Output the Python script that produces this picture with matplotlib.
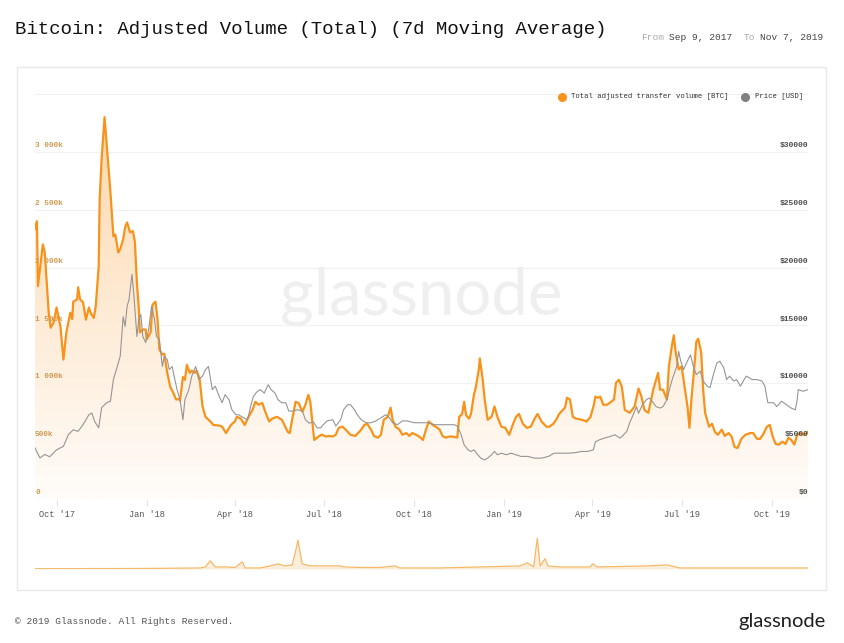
import numpy as np
import pandas as pd
import matplotlib
matplotlib.use('Agg')
import matplotlib.pyplot as plt
import matplotlib.dates as mdates
from matplotlib.colors import LinearSegmentedColormap
from matplotlib.patches import Rectangle

# ── data ──
START = pd.Timestamp('2017-09-09')
END = pd.Timestamp('2019-11-07')

vol_days = [0, 2, 3, 8, 10, 14, 16, 19, 22, 26, 29, 32, 36, 38, 39, 43, 44, 46, 49, 52,
            55, 57, 60, 62, 65, 66, 68, 71, 73, 75, 77, 80, 82, 85, 87, 90, 92, 94, 97, 100,
            102, 104, 106, 107, 110, 113, 114, 118, 120, 123, 125, 127, 130, 132, 135, 138,
            141, 144, 147, 148, 151, 153, 155, 158, 160, 163, 165, 168, 171, 174, 179, 182,
            188, 191, 195, 200, 204, 206, 210, 214, 218, 222, 225, 228, 232, 235, 239, 242,
            247, 252, 258, 260, 263, 266, 269, 273, 276, 279, 281, 285, 288, 292, 293, 297,
            300, 304, 307, 310, 314, 317, 322, 327, 333, 336, 339, 343, 346, 350, 353, 356,
            360, 363, 365, 368, 372, 375, 379, 382, 385, 389, 392, 396, 399, 402, 406, 409,
            413, 416, 419, 423, 426, 431, 433, 436, 438, 440, 443, 445, 448, 450, 453, 454,
            457, 459, 462, 466, 469, 472, 476, 480, 484, 488, 491, 494, 498, 502, 506, 510,
            513, 517, 522, 525, 529, 532, 535, 541, 543, 546, 549, 552, 558, 563, 567, 570,
            572, 575, 577, 580, 584, 588, 591, 593, 596, 599, 602, 607, 612, 616, 619, 622,
            626, 629, 631, 634, 636, 638, 641, 645, 647, 650, 652, 654, 657, 660, 663, 666,
            668, 670, 673, 675, 677, 680, 682, 684, 688, 691, 694, 697, 701, 704, 708, 711,
            714, 717, 721, 725, 730, 733, 737, 740, 743, 747, 750, 753, 756, 759, 763, 766,
            769, 772, 775, 778, 781, 784, 788, 789]
vol_k = [2335, 2400, 1840, 2200, 2130, 1610, 1480, 1525, 1655, 1490, 1205, 1440, 1610, 1555, 1705, 1725, 1830, 1725, 1700, 1550,
         1655, 1605, 1565, 1665, 2010, 2590, 2940, 3300, 3085, 2880, 2650, 2270, 2285, 2130, 2160, 2245, 2350, 2390, 2305, 2315,
         2220, 1870, 1640, 1440, 1465, 1465, 1380, 1440, 1680, 1705, 1560, 1290, 1250, 1255, 1090, 970,
         920, 860, 865, 850, 1055, 1030, 1160, 1090, 1110, 1090, 1110, 1040, 800, 710, 670, 640,
         635, 625, 570, 640, 670, 710, 695, 640, 710, 770, 840, 815, 830, 755, 670, 695,
         710, 685, 580, 570, 710, 840, 830, 755, 815, 900, 840, 510, 530, 555, 555, 540,
         545, 540, 555, 615, 625, 600, 555, 545, 600, 640, 650, 600, 545, 530, 555, 685,
         710, 790, 685, 625, 600, 555, 570, 545, 570, 555, 540, 510, 600, 670, 640, 625,
         600, 545, 530, 540, 540, 530, 710, 735, 840, 725, 695, 735, 900, 970, 1120, 1215,
         1030, 860, 685, 710, 800, 710, 625, 615, 555, 650, 710, 735, 650, 615, 625, 695,
         735, 670, 625, 625, 650, 685, 735, 790, 875, 860, 710, 695, 685, 670, 710, 800,
         885, 875, 885, 815, 815, 840, 860, 1005, 1030, 970, 770, 745, 800, 955, 885, 770,
         745, 860, 945, 1030, 1090, 945, 945, 860, 1145, 1320, 1415, 1265, 1120, 1145, 970, 800,
         615, 860, 1145, 1360, 1385, 1265, 945, 745, 625, 650, 580, 555, 600, 545, 570, 540,
         450, 440, 520, 555, 570, 570, 520, 520, 555, 625, 640, 540, 475, 470, 495, 475,
         530, 510, 470, 555, 570, 555, 570, 580]

price_days = [0, 5, 10, 15, 22, 29, 34, 39, 44, 49, 55, 58, 61, 65, 68, 73, 77, 80, 84, 87,
              90, 92, 94, 96, 99, 101, 104, 106, 108, 110, 113, 116, 119, 122, 124, 127, 130,
              132, 135, 137, 140, 142, 145, 148, 151, 153, 157, 160, 164, 167, 171, 174, 177,
              181, 184, 188, 191, 194, 198, 201, 205, 208, 211, 217, 220, 223, 227, 230, 234,
              238, 241, 245, 248, 252, 256, 259, 263, 268, 273, 276, 280, 284, 288, 292, 293,
              298, 304, 307, 312, 315, 319, 322, 326, 329, 333, 338, 343, 348, 353, 358, 361,
              365, 370, 375, 380, 387, 394, 401, 408, 414, 421, 428, 431, 435, 438, 442, 445,
              448, 452, 455, 459, 462, 466, 469, 472, 476, 481, 486, 491, 496, 503, 510, 517,
              524, 530, 537, 544, 551, 558, 564, 570, 572, 576, 581, 587, 592, 597, 599, 604,
              607, 610, 614, 616, 620, 624, 627, 631, 634, 638, 641, 645, 648, 651, 655, 657,
              659, 662, 665, 669, 672, 675, 679, 682, 686, 689, 692, 696, 699, 703, 706, 709,
              713, 716, 720, 723, 726, 732, 737, 742, 745, 748, 754, 757, 762, 767, 772, 776,
              778, 779, 784, 789]
price_usd = [4420, 3550, 3850, 3650, 4250, 4550, 5550, 5980, 5850, 6420, 7280, 7430, 6680, 6150, 7890, 8320, 8450, 10320, 11450, 12350,
             15750, 14910, 16650, 17250, 19420, 17550, 14050, 15520, 15950, 14050, 13520, 14650, 16650, 15520, 14050, 13750, 11450,
             12310, 12050, 11180, 11450, 10620, 9450, 8580, 6850, 8580, 9450, 10620, 11450, 10320, 10620, 11180, 11450,
             9450, 9750, 8880, 8320, 9020, 8580, 7710, 7280, 7280, 7110, 6850, 7980, 8880, 9310, 9450, 9150,
             9880, 9450, 9150, 8580, 8320, 8320, 7600, 7600, 7710, 7600, 6850, 6550, 6680, 6150, 6150, 6310,
             6750, 6850, 6310, 6850, 7720, 8150, 8150, 7720, 7280, 6850, 6590, 6590, 6750, 7020, 7280, 7110,
             6590, 6420, 6750, 6750, 6590, 6590, 6590, 6420, 6420, 6420, 6420, 6310, 5550, 4680, 4250, 4110,
             4250, 3820, 3530, 3380, 3530, 3820, 4110, 3820, 3960, 3820, 3960, 3820, 3680, 3680, 3530, 3530,
             3680, 3960, 3960, 3960, 4000, 4110, 4110, 4250, 4950, 5110, 5260, 5400, 5550, 5260, 5400, 5840,
             6590, 7170, 7980, 7400, 8150, 8580, 8730, 8320, 7980, 7860, 7980, 8580, 9620, 10490, 11450, 12750,
             11950, 11180, 11750, 12450, 11450, 10750, 11050, 10200, 9750, 9620, 10620, 11750, 11910, 11330, 10320, 10620,
             10200, 10320, 9750, 10200, 10620, 10320, 10320, 10200, 9750, 8320, 8320, 7980, 8450, 8150, 7850, 7710,
             8580, 9450, 9310, 9450]

# navigator (whole history, relative height)
nav_years = [2009.00, 2010.50, 2011.32, 2011.39, 2011.46, 2011.53, 2011.67, 2011.81, 2011.91, 2011.95,
             2012.16, 2012.30, 2012.41, 2012.51, 2012.61, 2012.65, 2012.69, 2012.75, 2012.86, 2013.00,
             2013.28, 2013.35, 2013.56, 2013.84, 2014.05, 2014.12, 2014.68, 2015.81, 2015.91, 2015.98,
             2016.00, 2016.05, 2016.09, 2016.16, 2016.20, 2016.37, 2016.79, 2016.83, 2016.89, 2017.59,
             2017.87, 2018.05, 2019.85]
nav_vals = [0.3, 0.5, 1, 2, 8, 2, 2, 1.5, 7, 1,
            1, 3, 5, 3, 4, 15, 28, 5, 3, 3,
            3, 2, 1.5, 1.5, 3, 1, 1, 3, 6, 3,
            2, 30, 3, 10, 3, 2, 2, 5, 2, 3,
            4, 1, 1]

vol_ticks = [0, 500, 1000, 1500, 2000, 2500, 3000]
vol_tick_labels = ['0', '500k', '1 000k', '1 500k', '2 000k', '2 500k', '3 000k']
price_ticks = [0, 5000, 10000, 15000, 20000, 25000, 30000]
price_tick_labels = ['$0', '$5000', '$10000', '$15000', '$20000', '$25000', '$30000']
x_tick_dates = ['2017-10-01', '2018-01-01', '2018-04-01', '2018-07-01', '2018-10-01',
                '2019-01-01', '2019-04-01', '2019-07-01', '2019-10-01']
x_tick_labels = ["Oct '17", "Jan '18", "Apr '18", "Jul '18", "Oct '18",
                 "Jan '19", "Apr '19", "Jul '19", "Oct '19"]

ORANGE = '#f7931a'
GREY = '#959595'
MONO = ['Liberation Mono', 'DejaVu Sans Mono']

vol_dates = START + pd.to_timedelta(vol_days, unit='D')
price_dates = START + pd.to_timedelta(price_days, unit='D')
vol = np.array(vol_k) * 1000.0

W, H = 844, 643
fig = plt.figure(figsize=(W / 100, H / 100), dpi=100)
fig.patch.set_facecolor('white')


def fx(px):
    return px / W


def fy(py):
    return 1 - py / H


# card border
fig.patches.append(Rectangle((fx(17), fy(590)), fx(826) - fx(17), fy(67) - fy(590),
                             transform=fig.transFigure, facecolor='none',
                             edgecolor='#e9e9e9', linewidth=1.0, zorder=-1))

# ── main axes ──
ax = fig.add_axes([fx(35), fy(499), fx(808) - fx(35), fy(94) - fy(499)])
ax.set_facecolor('none')
x0, x1 = mdates.date2num(START), mdates.date2num(END)
ax.set_xlim(x0, x1)
ax.set_ylim(0, 3500000)
for s in ax.spines.values():
    s.set_visible(False)

for v in vol_ticks + [3500]:
    ax.axhline(v * 1000, color='#f1f1f1', linewidth=0.8, zorder=0)
ax.axhline(0, color='#e4e4e4', linewidth=0.9, zorder=1)

# gradient fill under volume
cmap = LinearSegmentedColormap.from_list('fade', ['#fffcf9', '#fcd7ab'])
grad = np.linspace(0, 1, 256).reshape(-1, 1)
im = ax.imshow(grad, extent=[x0, x1, 0, 3500000], origin='lower', aspect='auto',
               cmap=cmap, zorder=1)
poly = ax.fill_between(vol_dates, vol, 0, facecolor='none', edgecolor='none')
im.set_clip_path(poly.get_paths()[0], transform=ax.transData)

ax.plot(vol_dates, vol, color=ORANGE, linewidth=1.6, zorder=3)

# watermark
ax.text(0.5, 0.5, 'glassnode', transform=ax.transAxes, ha='center', va='center',
        fontsize=47, color='#efefef', family='Lato', zorder=0.5)

ax.set_yticks([])
ax.set_xticks(mdates.date2num(pd.to_datetime(x_tick_dates)))
ax.set_xticklabels(x_tick_labels, family=MONO, fontsize=6.2, color='#555555')
ax.tick_params(axis='x', length=5, width=0.8, color='#e4e4e4', pad=3)

for v, lab in zip(vol_ticks, vol_tick_labels):
    ax.text(0.0, v * 1000 + 25000, lab, transform=ax.get_yaxis_transform(),
            ha='left', va='bottom', fontsize=5.6, family=MONO, color='#cc9a52',
            fontweight='bold', zorder=2)

# ── price on a twin axis ──
ax2 = ax.twinx()
ax2.set_ylim(0, 35000)
for s in ax2.spines.values():
    s.set_visible(False)
ax2.set_yticks([])
ax2.plot(price_dates, price_usd, color=GREY, linewidth=0.8, zorder=2)
for v, lab in zip(price_ticks, price_tick_labels):
    ax2.text(1.0, v + 250, lab, transform=ax2.get_yaxis_transform(),
             ha='right', va='bottom', fontsize=5.8, family=MONO, color='#4d4d4d',
             fontweight='bold')

# legend
fig.add_artist(plt.Line2D([fx(562)], [fy(97)], marker='o', markersize=5.5, color=ORANGE,
                          linestyle='none', transform=fig.transFigure))
fig.text(fx(571), fy(97), 'Total adjusted transfer volume [BTC]', ha='left', va='center',
         fontsize=5.2, family=MONO, color='#333333')
fig.add_artist(plt.Line2D([fx(745)], [fy(97)], marker='o', markersize=5.5, color='#808080',
                          linestyle='none', transform=fig.transFigure))
fig.text(fx(755), fy(97), 'Price [USD]', ha='left', va='center',
         fontsize=5.2, family=MONO, color='#333333')

# ── navigator ──
axn = fig.add_axes([fx(35), fy(569), fx(808) - fx(35), fy(532) - fy(569)])
axn.set_xlim(nav_years[0], nav_years[-1])
axn.set_ylim(0, 36)
axn.axis('off')
axn.fill_between(nav_years, nav_vals, 0, color='#fbe3c2', alpha=0.6, linewidth=0)
axn.plot(nav_years, nav_vals, color='#f6b865', linewidth=0.9)
axn.axhline(0, color='#d9d9d9', linewidth=0.8)

# ── header / footer ──
fig.text(fx(15), fy(29), 'Bitcoin: Adjusted Volume (Total) (7d Moving Average)',
         ha='left', va='center', fontsize=13.7, family=MONO, color='#111111')
cw = 5.69
hx = 641
fig.text(fx(hx), fy(38), 'From', ha='left', va='center', fontsize=6.8, family=MONO, color='#aaaaaa')
fig.text(fx(hx + 5 * cw), fy(38), 'Sep 9, 2017', ha='left', va='center', fontsize=6.8,
         family=MONO, color='#444444')
fig.text(fx(hx + 18 * cw), fy(38), 'To', ha='left', va='center', fontsize=6.8, family=MONO,
         color='#aaaaaa')
fig.text(fx(hx + 21 * cw), fy(38), 'Nov 7, 2019', ha='left', va='center', fontsize=6.8,
         family=MONO, color='#444444')

fig.text(fx(15), fy(622), '© 2019 Glassnode. All Rights Reserved.', ha='left', va='center',
         fontsize=6.8, family=MONO, color='#555555')
fig.text(fx(826), fy(622), 'glassnode', ha='right', va='center', fontsize=14.5,
         family='Lato', color='#1e1e1e')

fig.savefig('out.png', dpi=100)
